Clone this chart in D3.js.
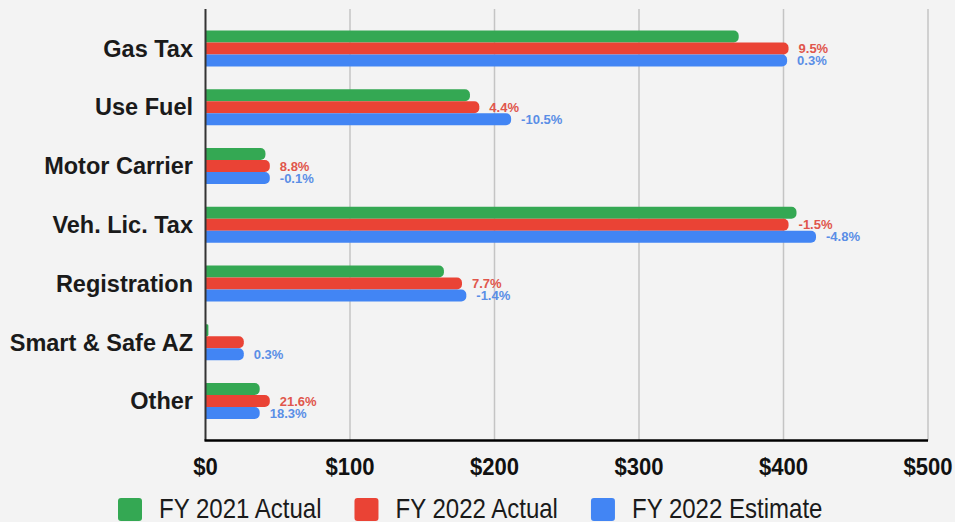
<!DOCTYPE html>
<html>
<head>
<meta charset="utf-8">
<script src="https://cdn.jsdelivr.net/npm/d3@7"></script>
<style>
  html, body { margin: 0; padding: 0; background: #f3f3f3; }
  svg { display: block; font-family: "Liberation Sans", Arial, sans-serif; }
</style>
</head>
<body>
<svg id="chart" width="955" height="522"></svg>
<script>
// revenue sources, $ millions
const categories = ['Gas Tax', 'Use Fuel', 'Motor Carrier', 'Veh. Lic. Tax', 'Registration', 'Smart & Safe AZ', 'Other'];
const fy21Actual = [369, 183, 41.5, 409, 165, 2, 37.5];
const fy22Actual = [403.5, 189.5, 44.5, 403.5, 177.5, 26.5, 44.5];
const fy22Estimate = [402.5, 211.5, 44.5, 422.5, 180.5, 26.5, 37.5];
const actualLabels = ['9.5%', '4.4%', '8.8%', '-1.5%', '7.7%', '', '21.6%'];
const estimateLabels = ['0.3%', '-10.5%', '-0.1%', '-4.8%', '-1.4%', '0.3%', '18.3%'];
const seriesNames = ['FY 2021 Actual', 'FY 2022 Actual', 'FY 2022 Estimate'];
const xTicks = [0, 100, 200, 300, 400, 500];

const colors = ['#34a853', '#ea4335', '#4285f4'];
const labelColors = [null, '#e0564c', '#5a8ee6'];

const svg = d3.select('#chart');
const W = 955, H = 522;
const plot = { left: 205.5, right: 928, top: 9, bottom: 440.5 };

svg.append('rect').attr('width', W).attr('height', H).attr('fill', '#f3f3f3');

const x = d3.scaleLinear().domain([0, 500]).range([plot.left, plot.right]);
const y = d3.scaleBand().domain(categories).range([plot.top, plot.bottom])
	.paddingInner(0.387).paddingOuter(0.365);
const ySeries = d3.scaleBand().domain(d3.range(3)).range([0, y.bandwidth()]);

// gridlines
svg.append('g')
	.selectAll('line')
	.data(xTicks.filter(d => d > 0))
	.join('line')
	.attr('x1', d => x(d))
	.attr('x2', d => x(d))
	.attr('y1', plot.top)
	.attr('y2', plot.bottom)
	.attr('stroke', '#c4c4c4')
	.attr('stroke-width', 1.5);

const rows = categories.map((c, i) => ({
	cat: c,
	values: [fy21Actual[i], fy22Actual[i], fy22Estimate[i]],
	labels: ['', actualLabels[i], estimateLabels[i]],
}));

// bar with rounded right end
const barPath = (x0, x1, y0, h) => {
	const w = x1 - x0;
	const r = Math.min(5, w / 2, h / 2);
	return `M${x0},${y0}H${x1 - r}A${r},${r} 0 0 1 ${x1},${y0 + r}V${y0 + h - r}A${r},${r} 0 0 1 ${x1 - r},${y0 + h}H${x0}Z`;
};

const group = svg.append('g')
	.selectAll('g')
	.data(rows)
	.join('g')
	.attr('transform', d => `translate(0,${y(d.cat)})`);

group.selectAll('path')
	.data(d => d.values.map((v, s) => ({ v, s })))
	.join('path')
	.attr('d', d => barPath(x(0), x(d.v), ySeries(d.s), ySeries.bandwidth()))
	.attr('fill', d => colors[d.s]);

group.selectAll('text')
	.data(d => d.values.map((v, s) => ({ v, s, label: d.labels[s] })).filter(d => d.label))
	.join('text')
	.attr('x', d => x(d.v) + 10)
	.attr('y', d => ySeries(d.s) + ySeries.bandwidth() / 2)
	.attr('dy', '0.36em')
	.attr('font-size', 13)
	.attr('font-weight', 700)
	.attr('fill', d => labelColors[d.s])
	.text(d => d.label);

// category labels
svg.append('g')
	.selectAll('text')
	.data(categories)
	.join('text')
	.attr('x', 193)
	.attr('y', d => y(d) + y.bandwidth() / 2)
	.attr('dy', '0.35em')
	.attr('text-anchor', 'end')
	.attr('font-size', 23.5)
	.attr('font-weight', 700)
	.attr('fill', '#1a1a1a')
	.text(d => d);

// axes lines
svg.append('line')
	.attr('x1', plot.left).attr('x2', plot.left)
	.attr('y1', plot.top).attr('y2', plot.bottom)
	.attr('stroke', '#333').attr('stroke-width', 2);

svg.append('line')
	.attr('x1', plot.left - 1).attr('x2', plot.right)
	.attr('y1', plot.bottom).attr('y2', plot.bottom)
	.attr('stroke', '#000').attr('stroke-width', 2.5);

// tick labels
svg.append('g')
	.selectAll('text')
	.data(xTicks)
	.join('text')
	.attr('transform', d => `translate(${x(d)},475) scale(0.92,1)`)
	.attr('text-anchor', 'middle')
	.attr('font-size', 24)
	.attr('font-weight', 700)
	.attr('fill', '#111')
	.text(d => `$${d}`);

// legend
const legend = svg.append('g');
const sx = 0.89;
let lx = 118;
seriesNames.forEach((name, i) => {
	legend.append('rect')
		.attr('x', lx).attr('y', 498)
		.attr('width', 24).attr('height', 23)
		.attr('rx', 3)
		.attr('fill', colors[i]);
	const t = legend.append('text')
		.attr('transform', `translate(${lx + 41},518) scale(${sx},1)`)
		.attr('font-size', 27)
		.attr('fill', '#1a1a1a')
		.text(name);
	lx += 41 + t.node().getComputedTextLength() * sx + 33;
});
</script>
</body>
</html>
